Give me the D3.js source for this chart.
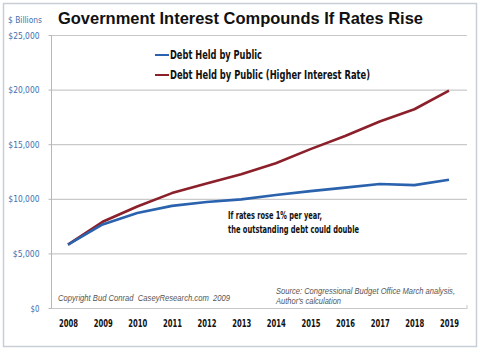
<!DOCTYPE html>
<html><head><meta charset="utf-8">
<script src="https://cdn.jsdelivr.net/npm/d3@7"></script>
<style>body{margin:0;background:#fff}svg{display:block}</style>
</head><body>
<script>
const years = ["2008","2009","2010","2011","2012","2013","2014","2015","2016","2017","2018","2019"];
const debtPublic = [5800,7650,8700,9350,9700,9950,10350,10700,11020,11350,11250,11750];
const debtHigher = [5800,7900,9300,10520,11400,12250,13250,14550,15750,17080,18200,19900];
const yTicks = [0,5000,10000,15000,20000,25000];
const seriesNames = ["Debt Held by Public","Debt Held by Public (Higher Interest Rate)"];
const seriesColors = ["#2a62ad","#8b1f2a"];

const W=480,H=352;
const svg=d3.select("body").append("svg").attr("width",W).attr("height",H);
svg.append("rect").attr("x",3.5).attr("y",3.5).attr("width",473).attr("height",343)
  .attr("fill","#fff").attr("stroke","#c8ced6").attr("stroke-width",1.5);

const x=d3.scalePoint().domain(years).range([68,449]);
const y=d3.scaleLinear().domain([0,25000]).range([308,35]);
const condensed='"DejaVu Sans Condensed","Liberation Sans",Arial,sans-serif';
const fit=(sel,len)=>sel.attr("textLength",len).attr("lengthAdjust","spacingAndGlyphs");

// gridlines
svg.append("g").selectAll("line").data(yTicks).join("line")
  .attr("x1",51).attr("x2",467).attr("y1",d=>y(d)+0.5).attr("y2",d=>y(d)+0.5)
  .attr("stroke","#c9c9c9").attr("stroke-width",1.2);
// left axis
const ya=svg.append("g").attr("transform","translate(51.5,0)")
  .call(d3.axisLeft(y).tickValues(yTicks).tickSize(3).tickPadding(9)
    .tickFormat(d=>"$"+d3.format(",")(d)));
ya.select(".domain").attr("stroke","#b8b8b8").attr("d","M0,35V308");
ya.selectAll(".tick line").attr("stroke","#b8b8b8");
ya.selectAll("text").attr("fill","#3d6fb0").style("font-family",condensed).style("font-size","9.5px")
  .each(function(){const t=d3.select(this).text();fit(d3.select(this),t.length*4.45);});
// bottom axis ticks text
const xa=svg.append("g").attr("transform","translate(0,308)")
  .call(d3.axisBottom(x).tickSize(0).tickPadding(12));
xa.select(".domain").remove();
xa.selectAll("text").attr("fill","#111").style("font-family",condensed)
  .style("font-size","10.5px").style("font-weight","bold").attr("textLength",19).attr("lengthAdjust","spacingAndGlyphs");
svg.append("line").attr("x1",467).attr("x2",467).attr("y1",305).attr("y2",309).attr("stroke","#c9c9c9");

// lines
const line=d3.line().x((d,i)=>x(years[i])).y(d=>y(d));
[debtHigher,debtPublic].forEach((s,k)=>{
  svg.append("path").datum(s).attr("d",line).attr("fill","none")
    .attr("stroke",seriesColors[1-k]).attr("stroke-width",2.6).attr("stroke-linejoin","round");
});

// legend
const legLen=[92,200];
seriesNames.forEach((n,i)=>{
  const ly=[55,75][i];
  svg.append("line").attr("x1",155).attr("x2",169).attr("y1",ly).attr("y2",ly)
    .attr("stroke",seriesColors[i]).attr("stroke-width",2);
  fit(svg.append("text").attr("x",170).attr("y",ly+4).text(n)
    .style("font-family",condensed).style("font-size","12px").style("font-weight","bold").attr("fill","#111"),legLen[i]);
});

// title
fit(svg.append("text").attr("x",58).attr("y",24)
  .text("Government Interest Compounds If Rates Rise")
  .style("font-family","Arial,Liberation Sans,sans-serif").style("font-size","16.5px").style("font-weight","bold").attr("fill","#111"),365);
fit(svg.append("text").attr("x",8).attr("y",23).text("$ Billions")
  .style("font-family",condensed).style("font-size","9.5px").attr("fill","#3d6fb0"),34);

// annotation
const annLen=[94,131];
["If rates rose 1% per year,","the outstanding debt could double"].forEach((t,i)=>{
  fit(svg.append("text").attr("x",228).attr("y",219+i*14).text(t)
    .style("font-family",condensed).style("font-size","10.5px").style("font-weight","bold").attr("fill","#111"),annLen[i]);
});
fit(svg.append("text").attr("x",58).attr("y",301).attr("xml:space","preserve").style("white-space","pre")
  .text("Copyright Bud Conrad  CaseyResearch.com  2009")
  .style("font-family","Arial,sans-serif").style("font-size","8.3px").style("font-style","italic").attr("fill","#555"),172);
const srcLen=[179,65];
["Source: Congressional Budget Office March analysis,","Author's calculation"].forEach((t,i)=>{
  fit(svg.append("text").attr("x",276).attr("y",294+i*10).text(t)
    .style("font-family","Arial,sans-serif").style("font-size","8.3px").style("font-style","italic").attr("fill","#555"),srcLen[i]);
});
</script>
</body></html>
